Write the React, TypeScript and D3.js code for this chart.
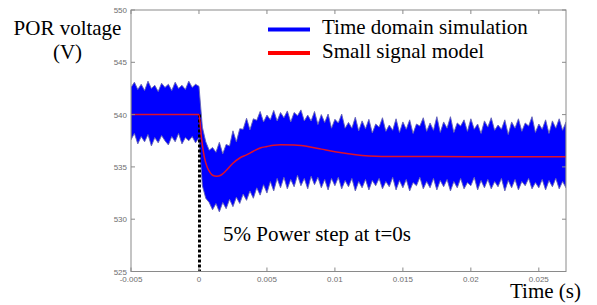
import React, { useEffect, useRef } from 'react';
import * as d3 from 'd3';

// tick labels
const xTicks = [-0.005, 0, 0.005, 0.01, 0.015, 0.02, 0.025];
const xTickLabels = ['-0.005', '0', '0.005', '0.01', '0.015', '0.02', '0.025'];
const yTicks = [525, 530, 535, 540, 545, 550];

// small signal model (red)
const modelTime = [-0.005, 0, 0.0002, 0.0004, 0.0006, 0.0008, 0.001, 0.0013, 0.0016, 0.002, 0.0025, 0.003, 0.0035, 0.004, 0.0045, 0.005, 0.0055, 0.006, 0.007, 0.0075, 0.008, 0.009, 0.01, 0.011, 0.012, 0.013, 0.014, 0.02, 0.027];
const modelVolt = [540, 540, 537.6, 535.9, 535.0, 534.5, 534.2, 534.1, 534.2, 534.65, 535.35, 535.85, 536.15, 536.5, 536.8, 536.95, 537.08, 537.12, 537.1, 537.05, 536.95, 536.7, 536.45, 536.25, 536.1, 536.02, 536.0, 535.98, 535.98];

// time domain simulation (blue): ripple envelope sampled every 0.25 ms from -5 ms to 27 ms
const simStart = -0.005;
const simStep = 0.00025;
const simUpper = [
  542.6, 543.1, 542.4, 542.9, 542.3, 543.2, 542.5, 542.8, 542.2, 543.0, 542.6, 542.9,
  542.3, 543.1, 542.5, 542.8, 542.4, 543.2, 542.6, 542.9, 542.7,
  538.8, 537.4, 536.6, 536.85, 536.4, 537.35, 536.25, 537.15, 537.0, 538.45, 537.4, 538.65,
  538.6, 539.65, 538.55, 539.6, 539.45, 540.3, 539.3, 539.95, 539.5, 540.4, 539.4, 540.2,
  539.7, 540.35, 539.3, 540.2, 539.9, 540.45, 539.4, 539.95, 539.4, 540.3, 539.05, 540.0,
  539.25, 540.05, 538.7, 539.55, 539.2, 540.05, 538.7, 539.25, 538.7, 539.75, 538.45, 539.4,
  538.65, 539.55, 538.25, 539.1, 538.8, 539.7, 538.4, 539.0, 538.5, 539.6, 538.3, 539.3,
  538.6, 539.5, 538.2, 539.1, 538.9, 539.7, 538.4, 539.2, 538.5, 539.8, 538.3, 539.3,
  538.7, 539.8, 538.3, 539.2, 538.9, 539.5, 538.4, 539.6, 538.6, 539.1, 538.2, 539.4,
  538.8, 539.7, 538.5, 539.0, 538.6, 539.5, 538.1, 539.3, 538.7, 539.6, 538.4, 539.2,
  538.9, 539.8, 538.3, 539.1, 538.6, 539.5, 538.2, 539.4, 538.7, 539.6, 538.5, 539.3,
];
const simLower = [
  537.6, 538.2, 537.2, 537.9, 537.4, 538.1, 537.0, 537.8, 537.3, 538.0, 537.5, 537.1,
  537.9, 537.4, 538.2, 537.2, 537.8, 537.5, 537.9, 537.3, 537.8,
  533.2, 532.0, 531.6, 530.9, 531.5, 530.7, 531.6, 531.0, 531.9, 531.2, 532.1, 531.5,
  532.4, 531.8, 532.7, 532.0, 533.0, 532.3, 533.3, 532.5, 533.6, 532.7, 533.9, 533.0,
  534.0, 532.9, 533.8, 533.1, 534.2, 533.2, 533.9, 532.9, 534.1, 533.3, 534.0, 533.0,
  533.8, 532.8, 533.9, 533.2, 534.0, 532.9, 533.7, 533.1, 533.9, 532.7, 533.6, 533.0,
  533.8, 532.8, 533.7, 533.2,
  533.9, 532.9, 533.6, 533.1, 534.0, 532.8, 533.7, 533.0, 533.8, 532.7, 533.5, 533.2,
  534.0, 532.9, 533.6, 533.0, 533.9, 532.8, 533.7, 533.1, 533.8, 532.7, 533.6, 533.0,
  533.9, 532.9, 533.5, 533.2, 534.0, 532.8, 533.7, 533.0, 533.8, 532.9, 533.6, 533.1,
  533.9, 532.7, 533.7, 533.0, 533.8, 532.8, 533.6, 533.2, 533.9, 532.9, 533.5, 533.0,
  533.8, 532.8, 533.7, 533.1, 533.9, 532.9, 533.6, 533.0,
];

const W = 597;
const H = 305;
const SERIF = "'Liberation Serif', 'Times New Roman', Tinos, 'DejaVu Serif', serif";
const SANS = "'Liberation Sans', Arial, sans-serif";

const drawChart = (node: SVGSVGElement) => {
  const svg = d3.select(node);
  svg.selectAll('*').remove();

  const left = 131, right = 566, top = 10, bottom = 271.5;
  const x = d3.scaleLinear().domain([-0.005, 0.027]).range([left, right]);
  const y = d3.scaleLinear().domain([525, 550]).range([bottom, top]);
  const axisColor = '#8a8a8a';

  svg.append('defs').append('clipPath').attr('id', 'plotClip')
    .append('rect').attr('x', left).attr('y', top).attr('width', right - left).attr('height', bottom - top);

  const plot = svg.append('g').attr('clip-path', 'url(#plotClip)');

  // blue simulation band
  const sim = simUpper.map((u, i) => ({ t: simStart + i * simStep, hi: u, lo: simLower[i] }));
  plot.append('path')
    .datum(sim)
    .attr('fill', '#0000ff')
    .attr('stroke', '#6464b4')
    .attr('stroke-width', 0.9)
    .attr('d', d3.area<any>()
      .x((d) => x(d.t))
      .y0((d) => y(d.lo))
      .y1((d) => y(d.hi)));

  // dotted step marker
  plot.append('line')
    .attr('x1', x(0) + 0.5).attr('x2', x(0) + 0.5)
    .attr('y1', y(540)).attr('y2', bottom)
    .attr('stroke', '#000').attr('stroke-width', 3)
    .attr('stroke-dasharray', '3,2');

  // red model line
  plot.append('path')
    .datum(modelTime.map((t, i) => ({ t, v: modelVolt[i] })))
    .attr('fill', 'none')
    .attr('stroke', '#e0102a')
    .attr('stroke-width', 1.5)
    .attr('d', d3.line<any>().curve(d3.curveMonotoneX).x((d) => x(d.t)).y((d) => y(d.v)));

  // box + ticks (matlab style, ticks inward on all sides)
  svg.append('rect')
    .attr('x', left).attr('y', top).attr('width', right - left).attr('height', bottom - top)
    .attr('fill', 'none').attr('stroke', axisColor).attr('stroke-width', 1);

  xTicks.forEach((t, i) => {
    svg.append('line').attr('x1', x(t)).attr('x2', x(t)).attr('y1', bottom).attr('y2', bottom - 4)
      .attr('stroke', axisColor);
    svg.append('line').attr('x1', x(t)).attr('x2', x(t)).attr('y1', top).attr('y2', top + 4)
      .attr('stroke', axisColor);
    svg.append('text').attr('x', x(t)).attr('y', bottom + 10.5)
      .attr('text-anchor', 'middle')
      .attr('font-family', SANS)
      .attr('font-size', 8).attr('fill', '#6e6e6e')
      .text(xTickLabels[i]);
  });

  yTicks.forEach((v) => {
    svg.append('line').attr('x1', left).attr('x2', left + 4).attr('y1', y(v)).attr('y2', y(v))
      .attr('stroke', axisColor);
    svg.append('line').attr('x1', right).attr('x2', right - 4).attr('y1', y(v)).attr('y2', y(v))
      .attr('stroke', axisColor);
    svg.append('text').attr('x', left - 4).attr('y', y(v) + 3)
      .attr('text-anchor', 'end')
      .attr('font-family', SANS)
      .attr('font-size', 8).attr('fill', '#6e6e6e')
      .text(v);
  });

  const serifText = (tx: number, ty: number, label: string, anchor = 'start') =>
    svg.append('text').attr('x', tx).attr('y', ty).attr('text-anchor', anchor)
      .attr('font-family', SERIF).attr('font-size', 21).attr('fill', '#000').text(label);

  // axis titles
  serifText(67.5, 35, 'POR voltage', 'middle');
  serifText(67.5, 59, '(V)', 'middle');
  serifText(581, 298, 'Time (s)', 'end');

  // annotation
  serifText(223, 241, '5% Power step at t=0s');

  // legend
  svg.append('line').attr('x1', 268).attr('x2', 310).attr('y1', 29.5).attr('y2', 29.5)
    .attr('stroke', '#0000ff').attr('stroke-width', 4);
  svg.append('line').attr('x1', 268).attr('x2', 310).attr('y1', 53).attr('y2', 53)
    .attr('stroke', '#ff0000').attr('stroke-width', 4);
  serifText(322, 34, 'Time domain simulation');
  serifText(322, 57.5, 'Small signal model');
};

const App = () => {
  const ref = useRef<SVGSVGElement>(null);

  useEffect(() => {
    if (ref.current) drawChart(ref.current);
  }, []);

  return (
    <svg ref={ref} width={W} height={H}
      style={{ position: 'absolute', left: 0, top: 0, background: '#fff' }} />
  );
};

export default App;
